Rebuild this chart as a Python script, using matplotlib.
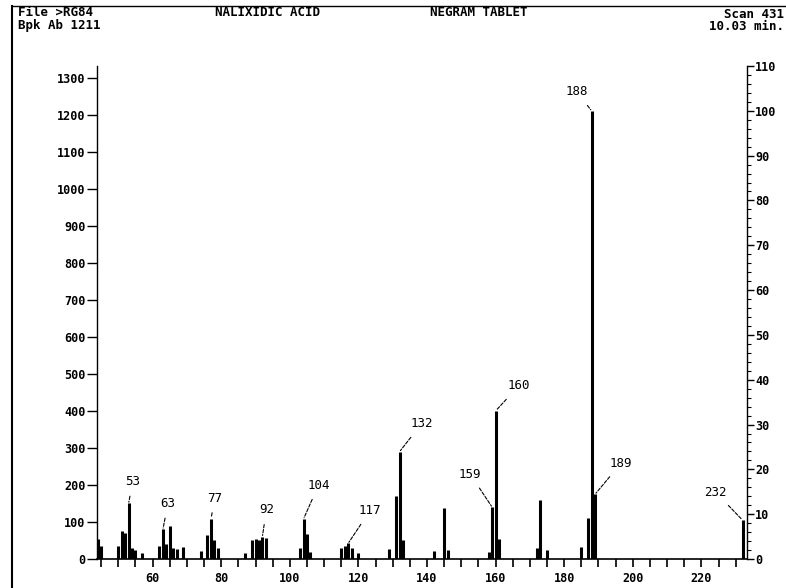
import matplotlib
matplotlib.use("Agg")
import matplotlib.pyplot as plt
from matplotlib.lines import Line2D
from matplotlib.ticker import MultipleLocator

# mass spectrum, scan 431 (m/z, abundance)
mz = [43, 44, 45,
      50, 51, 52, 53, 54, 55, 57,
      62, 63, 64, 65, 66, 67, 69,
      74, 76, 77, 78, 79,
      87, 89, 90, 91, 92, 93,
      103, 104, 105, 106,
      115, 116, 117, 118, 120,
      129, 131, 132, 133,
      142, 145, 146,
      158, 159, 160, 161,
      172, 173, 175,
      185, 187, 188, 189,
      232]
abund = [70, 55, 35,
         35, 75, 70, 150, 30, 25, 15,
         35, 80, 40, 88, 30, 28, 33,
         22, 65, 108, 50, 30,
         17, 50, 53, 52, 60, 57,
         30, 108, 68, 20,
         30, 35, 42, 30, 15,
         28, 170, 290, 50,
         22, 137, 25,
         20, 140, 400, 55,
         30, 160, 25,
         32, 110, 1211, 175,
         105]
base_peak = 1211

labelled = [53, 63, 77, 92, 104, 117, 132, 159, 160, 188, 189, 232]
# label offsets from peak top, in pixels
label_off = {53: (4, 22), 63: (5, 26), 77: (4, 21), 92: (4, 27), 104: (15, 34),
             117: (22, 33), 132: (22, 28), 159: (-22, 33), 160: (23, 25),
             188: (-15, 19), 189: (26, 31), 232: (-27, 28)}

W, H = 786, 588
fig = plt.figure(figsize=(W / 100, H / 100), dpi=100)
ax = fig.add_axes([96.7 / W, 1 - 559 / H, (747 - 96.7) / W, (559 - 66) / H])

ymax = base_peak * 1.10
ax.vlines(mz, 0, abund, colors="black", lw=2.2)
ax.set_xlim(43.7, 233.3)
ax.set_ylim(0, ymax)

font = dict(family="DejaVu Sans Mono", weight="bold", size=8.5)

for m in labelled:
    v = abund[mz.index(m)]
    dx, dy = label_off[m]
    ax.annotate(str(m), xy=(m, v), xytext=(dx, dy), textcoords="offset pixels",
                ha="center", va="center", family="DejaVu Sans Mono", size=9,
                arrowprops=dict(arrowstyle="-", lw=0.8, ls=(0, (3, 1.5)),
                                shrinkA=4, shrinkB=1))

for s in ["top", "right"]:
    ax.spines[s].set_visible(False)
ax.spines["left"].set_linewidth(1)
ax.spines["bottom"].set_linewidth(1.2)

ax.xaxis.set_major_locator(MultipleLocator(20))
ax.xaxis.set_minor_locator(MultipleLocator(5))
ax.set_xticks(range(60, 221, 20))
ax.tick_params(axis="x", which="both", direction="out", length=6, width=1.2, pad=3)
ax.yaxis.set_major_locator(MultipleLocator(100))
ax.set_yticks(range(0, 1301, 100))
ax.tick_params(axis="y", direction="out", length=7, width=1, pad=1)
for lab in ax.get_xticklabels() + ax.get_yticklabels():
    lab.set_fontproperties(font)
    lab.set_family("DejaVu Sans Mono")
    lab.set_weight("bold")
    lab.set_size(8.5)

ax2 = ax.twinx()
ax2.set_ylim(0, 110)
for s in ["top", "left", "bottom"]:
    ax2.spines[s].set_visible(False)
ax2.spines["right"].set_linewidth(1)
ax2.yaxis.set_major_locator(MultipleLocator(10))
ax2.yaxis.set_minor_locator(MultipleLocator(2))
ax2.tick_params(axis="y", which="major", direction="out", length=5, width=1, pad=1)
ax2.tick_params(axis="y", which="minor", direction="out", length=3, width=0.8)
for lab in ax2.get_yticklabels():
    lab.set_family("DejaVu Sans Mono")
    lab.set_weight("bold")
    lab.set_size(8.5)

# header
def ftext(x, y, s, **kw):
    fig.text(x / W, 1 - y / H, s, family="DejaVu Sans Mono", weight="bold",
             size=9, va="center", **kw)

ftext(18, 13, "File >RG84")
ftext(18, 25, "Bpk Ab 1211")
ftext(215, 12, "NALIXIDIC ACID")
ftext(430, 12, "NEGRAM TABLET")
ftext(784, 14, "Scan 431", ha="right")
ftext(784, 26, "10.03 min.", ha="right")

fig.add_artist(Line2D([12 / W, 12 / W], [0, 1 - 6 / H], color="black", lw=1.5))
fig.add_artist(Line2D([12 / W, 1], [1 - 6 / H, 1 - 6 / H], color="black", lw=1))

fig.savefig("out.png", dpi=100)
